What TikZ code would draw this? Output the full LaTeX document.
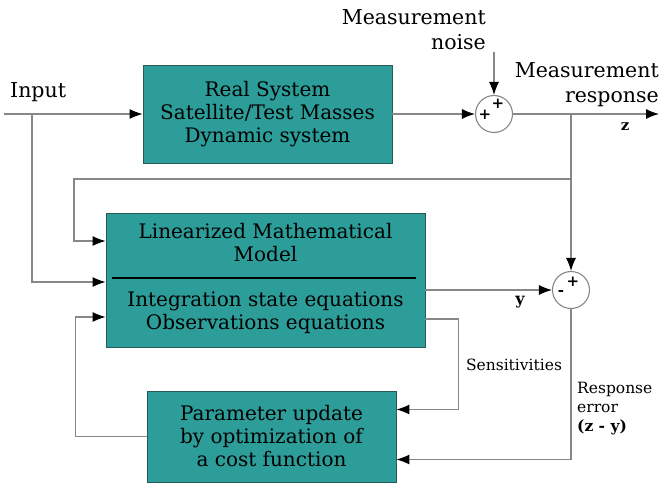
\documentclass[tikz,border=0pt]{standalone}
\usepackage{fontspec}
\setmainfont{DejaVu Serif}
\usepackage{tikz}
\usetikzlibrary{arrows.meta,positioning,calc}
\definecolor{tealBox}{RGB}{44,157,153}
\definecolor{edgeTeal}{RGB}{40,90,88}
\definecolor{lineGray}{RGB}{135,135,135}

\begin{document}
\begin{tikzpicture}[x=1pt, y=-1pt,
  block/.style={rectangle, draw=edgeTeal, line width=0.8pt, fill=tealBox,
                align=center, font=\fontsize{20}{23}\selectfont},
  sum/.style={circle, draw=lineGray, line width=1.1pt, fill=white,
              minimum size=37pt, inner sep=0pt},
  sign/.style={font=\fontsize{15}{15}\selectfont\bfseries, inner sep=0pt},
  lbl/.style={font=\fontsize{20.5}{25}\selectfont, inner sep=0pt},
  small/.style={font=\fontsize{15.5}{19}\selectfont, inner sep=0pt},
  arr/.style={-{Latex[length=13pt,width=10pt,black]}, lineGray, line width=1.1pt}
]
  \useasboundingbox (0,0) rectangle (660,484);

  \node[block, minimum width=249pt, minimum height=98pt] (real) at (267.5,114)
    {Real System\\Satellite/Test Masses\\Dynamic system};
  \node[block, minimum width=319pt, minimum height=134pt] (model) at (265.5,280) {};
  \node[block, draw=none, fill=none] (modeltop) at (265.5,243)
    {Linearized Mathematical\\Model};
  \node[block, draw=none, fill=none] (modelbot) at (265.5,313)
    {Integration state equations\\Observations equations};
  \draw[line width=2.2pt] ($(model.west)+(6,-2)$) -- ($(model.east)+(-9,-2)$);
  \node[block, minimum width=249pt, minimum height=91pt] (param) at (271.5,436.5)
    {Parameter update\\by optimization of\\a cost function};

  \node[sum] (sum1) at (494,114) {};
  \node[sign] (s1a) at (485,115) {+};
  \node[sign] (s1b) at (498,104) {+};
  \node[sum] (sum2) at (571,290) {};
  \node[sign] (s2a) at (573,282) {+};
  \node[sign] (s2b) at (561,293) {-};

  \node[lbl, anchor=west] (input) at (10,92) {Input};
  \node[lbl, align=right, anchor=east] (noiselbl) at (486,30) {Measurement\\noise};
  \node[lbl, align=right, anchor=east] (resplbl) at (659,85) {Measurement\\response};
  \node[font=\fontsize{15}{15}\selectfont\bfseries] (zlbl) at (625,127) {z};
  \node[font=\fontsize{16}{16}\selectfont\bfseries] (ylbl) at (520,302) {y};
  \node[small] (senslbl) at (514,365) {Sensitivities};
  \node[small, align=left, anchor=north west] (errlbl) at (577,382)
    {Response\\error\\\textbf{(z - y)}};

  \coordinate (in) at (4,114);
  \coordinate (inbr) at (32,114);
  \coordinate (noise) at (494,52);
  \coordinate (out) at (659,114);
  \coordinate (zbr) at (571,114);
  \coordinate (fbr) at (571,179);
  \coordinate (fbl) at (74,179);

  \draw[arr] (in) -- (real.west);
  \draw[arr] (inbr) |- ($(model.west)+(0,2)$);
  \draw[arr] (real.east) -- (sum1.west);
  \draw[arr] (noise) -- (sum1.north);
  \draw[arr] (sum1.east) -- (out);
  \draw[arr] (zbr) -- (sum2.north);
  \draw[arr] (fbr) -- (fbl) |- ($(model.west)+(0,-39)$);
  \draw[arr] (model.east |- sum2.west) -- (sum2.west);
  \draw[arr] ($(model.east)+(0,39)$) -- ++(33,0) |- ($(param.east)+(0,-27)$);
  \draw[arr] (sum2.south) |- ($(param.east)+(0,23)$);
  \draw[arr] (param.west) -- ++(-71,0) |- ($(model.west)+(0,37)$);
\end{tikzpicture}
\end{document}
